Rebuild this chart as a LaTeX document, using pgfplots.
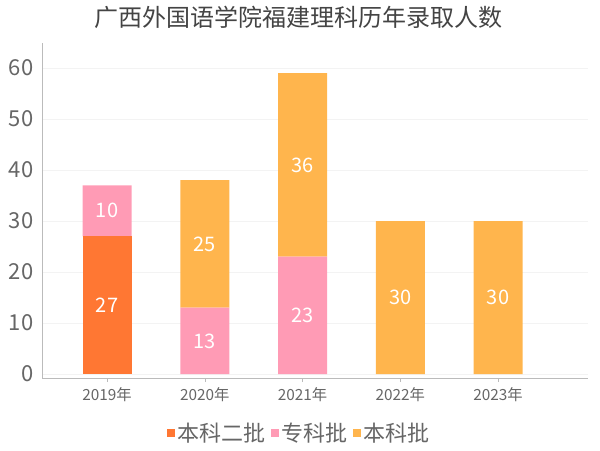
\documentclass[border=0pt]{standalone}
\usepackage{fontspec}
\setmainfont{Noto Sans CJK SC}
\usepackage{pgfplots}
\pgfplotsset{compat=1.18}
\usepackage{pgfplotstable}

\definecolor{cA}{HTML}{FF7733}
\definecolor{cB}{HTML}{FF9BB5}
\definecolor{cC}{HTML}{FFB54D}
\definecolor{txt}{HTML}{666666}
\definecolor{ttl}{HTML}{444444}
\definecolor{axisgray}{HTML}{BBBBBB}
\definecolor{gridgray}{HTML}{F3F3F3}

% 本科二批
\pgfplotstableread{
x v lab
0 27 27
1 0 {}
2 0 {}
3 0 {}
4 0 {}
}\erpi
% 专科批
\pgfplotstableread{
x v lab
0 10 10
1 13 13
2 23 23
3 0 {}
4 0 {}
}\zhuanke
% 本科批
\pgfplotstableread{
x v lab
0 0 {}
1 25 25
2 36 36
3 30 30
4 30 30
}\benke

\begin{document}
\begin{tikzpicture}
\path[use as bounding box] (0,0) rectangle (450pt,-337.5pt);
\node[font=\fontsize{18}{20}\selectfont, text=ttl] at (223.5pt,-12.75pt) {广西外国语学院福建理科历年录取人数};
\begin{axis}[
    at={(31.5pt,-32.25pt)}, anchor=north west,
    scale only axis,
    width=409.5pt, height=251.25pt,
    ybar stacked, bar width=36.75pt,
    xmin=-0.665, xmax=4.92,
    ymin=-0.78, ymax=64.9,
    axis x line=bottom, axis y line=left,
    axis line style={draw=axisgray, -},
    xtick={0,1,2,3,4},
    xticklabels={2019年,2020年,2021年,2022年,2023年},
    ytick={0,10,...,60},
    ymajorgrids, grid style={draw=gridgray, line width=0.6pt},
    tick align=outside, major tick length=3pt,
    xtick style={draw=axisgray},
    ytick style={draw=none},
    /pgf/number format/assume math mode=true,
    xticklabel style={font=\fontsize{11.5}{13}\selectfont, text=txt, yshift=-1pt},
    yticklabel style={font=\fontsize{16.5}{18}\selectfont, text=txt},
    legend style={at={(0.4725,-0.164)}, anchor=center, legend columns=-1,
        draw=none, fill=none, font=\fontsize{16.5}{18}\selectfont, text=txt,
        /tikz/every even column/.append style={column sep=2pt},
        /tikz/every odd column/.append style={column sep=0pt}},
    legend image code/.code={\fill[#1] (0pt,-3pt) rectangle (6pt,3pt);},
    point meta=explicit symbolic,
    nodes near coords,
    every node near coord/.append style={anchor=center, text=white,
        font=\fontsize{15}{17}\selectfont},
]
\addplot[fill=cA, draw=none] table[x=x, y=v, meta=lab] {\erpi};
\addlegendentry{本科二批}
\addplot[fill=cB, draw=none] table[x=x, y=v, meta=lab] {\zhuanke};
\addlegendentry{专科批}
\addplot[fill=cC, draw=none] table[x=x, y=v, meta=lab] {\benke};
\addlegendentry{本科批}
\end{axis}
\end{tikzpicture}
\end{document}
